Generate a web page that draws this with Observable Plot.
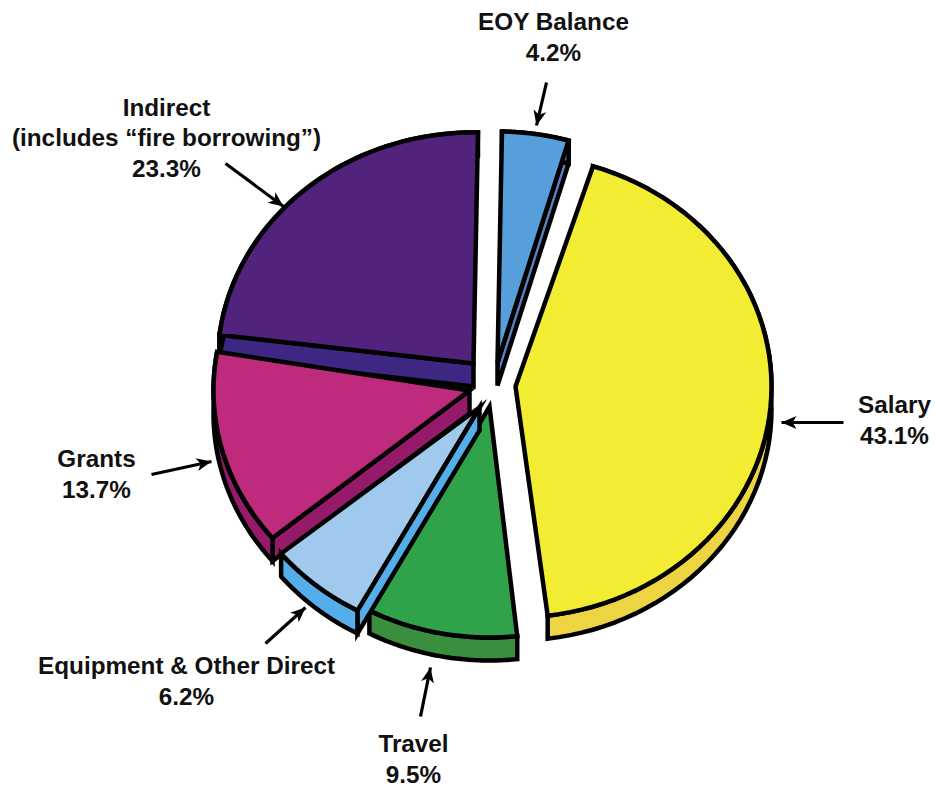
<!DOCTYPE html>
<html>
<head>
<meta charset="utf-8">
<script src="https://cdn.jsdelivr.net/npm/d3@7"></script>
<script src="https://cdn.jsdelivr.net/npm/@observablehq/plot@0.6"></script>
<style>
  html, body { margin: 0; padding: 0; background: #fff; }
  svg { display: block; }
</style>
</head>
<body>
<div id="chart"></div>
<script>
// Budget shares, clockwise from twelve o'clock.
const names = ["EOY Balance", "Salary", "Travel", "Equipment & Other Direct", "Grants", "Indirect"];
const labels = ["EOY Balance", "Salary", "Travel", "Equipment & Other Direct", "Grants", "Indirect\n(includes “fire borrowing”)"];
const shares = [4.2, 43.1, 9.5, 6.2, 13.7, 23.3];

// Slice colours: top face and side wall.
const topColors = ["#569fdb", "#f2ec33", "#30a24a", "#9fcaed", "#bf2b7c", "#52237c"];
const sideColors = ["#5b7fc0", "#ecd443", "#3a8f3e", "#55aeea", "#951a6a", "#3e2782"];

// Pie geometry in page units.
const pie = {cx: 490, cy: 385, rx: 256, ry: 231, depth: 23};
const pull = [[7, -23], [25, 1], [-1, 21], [-11, 22], [-21, 5], [-17, -22]];
const turn = [1, 2.5, 3.5, 4, 3.5, 1];
const paintOrder = [0, 5, 1, 4, 2, 3];

// Annotation placement.
const labelSpots = [[553, 35], [894, 418], [413, 757], [186, 679], [96, 472], [166, 136]];
const arrowTails = [[546, 82], [843, 422], [420, 716], [265, 643], [151, 474], [225, 163]];
const arrowTips = [[536, 125], [781, 422], [430, 667], [305, 607], [211, 461], [283, 206]];

// Turn each share into a flat outline: apex first, then the rim.
let running = 0;
const outlines = shares.map((share, i) => {
  const from = (running / 100) * 360 + turn[i];
  running += share;
  const to = (running / 100) * 360 + turn[i];
  const ax = pie.cx + pull[i][0], ay = pie.cy + pull[i][1];
  const rim = d3.range(0, 61).map(k => {
    const a = ((from + (to - from) * k / 60) * Math.PI) / 180;
    return [ax + pie.rx * Math.sin(a), ay - pie.ry * Math.cos(a)];
  });
  return {i, apex: [ax, ay], rim};
});

// A cut face shows only when the drop carries it clearly past the top face.
const drop = ([x, y]) => [x, y + pie.depth];
const lean = (a, b) => (b[0] - a[0]) / Math.hypot(b[0] - a[0], b[1] - a[1]);

// Faces of one extruded slice, listed back to front.
const polygons = [];
paintOrder.forEach(i => {
  const {apex, rim} = outlines[i];
  const first = rim[0], last = rim[rim.length - 1];
  const side = names[i] + " side";
  if (lean(apex, first) < -0.2) polygons.push({key: side, pts: [apex, first, drop(first), drop(apex)]});
  if (lean(apex, last) > 0.2) polygons.push({key: side, pts: [apex, last, drop(last), drop(apex)]});
  polygons.push({key: side, pts: [...rim, ...rim.map(drop).reverse()]});
  polygons.push({key: names[i], pts: [apex, ...rim]});
});
const vertices = polygons.flatMap((p, id) => p.pts.map(([x, y]) => ({id, key: p.key, x, y})));

const annotations = names.map((name, i) => ({
  text: `${labels[i]}\n${shares[i].toFixed(1)}%`,
  x: labelSpots[i][0], y: labelSpots[i][1],
  x1: arrowTails[i][0], y1: arrowTails[i][1],
  x2: arrowTips[i][0], y2: arrowTips[i][1],
  angle: (Math.atan2(arrowTips[i][0] - arrowTails[i][0], arrowTails[i][1] - arrowTips[i][1]) * 180) / Math.PI
}));

// Filled, slightly swept arrowhead with its tip at the origin, pointing up.
const arrowHead = {
  draw(context) {
    context.moveTo(0, 0);
    context.lineTo(6.5, 15);
    context.lineTo(0, 11);
    context.lineTo(-6.5, 15);
    context.closePath();
  }
};

const chart = Plot.plot({
  width: 935,
  height: 789,
  margin: 0,
  x: {domain: [0, 935], range: [0, 935], axis: null},
  y: {domain: [0, 789], range: [0, 789], axis: null},
  color: {
    type: "ordinal",
    domain: [...names, ...names.map(n => n + " side")],
    range: [...topColors, ...sideColors]
  },
  marks: [
    Plot.line(vertices, {
      x: "x", y: "y", z: "id", fill: "key",
      stroke: "#000", strokeWidth: 4.5, strokeLinejoin: "miter", strokeMiterlimit: 6,
      curve: "linear-closed"
    }),
    Plot.link(annotations, {
      x1: "x1", y1: "y1", x2: "x2", y2: "y2",
      stroke: "#000", strokeWidth: 3.2
    }),
    Plot.dot(annotations, {
      x: "x2", y: "y2", rotate: "angle", symbol: arrowHead,
      fill: "#000", stroke: "none"
    }),
    Plot.text(annotations, {
      x: "x", y: "y", text: "text",
      fontFamily: "Liberation Sans", fontWeight: "bold", fontSize: 24.3,
      lineHeight: 1.26, lineAnchor: "middle", textAnchor: "middle", fill: "#111"
    })
  ]
});
document.getElementById("chart").appendChild(chart);
</script>
</body>
</html>
